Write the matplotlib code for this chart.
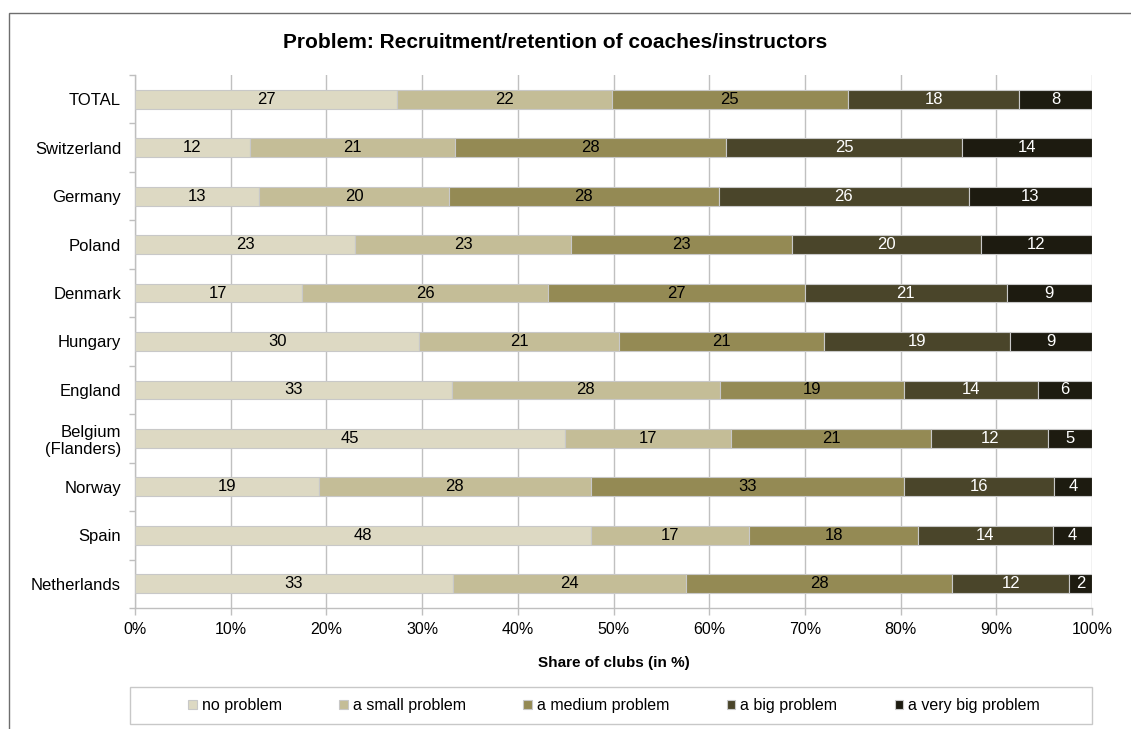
import matplotlib
matplotlib.use("Agg")
import matplotlib.pyplot as plt
from matplotlib.patches import Rectangle
import numpy as np

plt.rcParams['font.family'] = ['Liberation Sans', 'DejaVu Sans']

categories = ["TOTAL", "Switzerland", "Germany", "Poland", "Denmark", "Hungary",
              "England", "Belgium\n(Flanders)", "Norway", "Spain", "Netherlands"]
series_names = ["no problem", "a small problem", "a medium problem",
                "a big problem", "a very big problem"]
no_problem     = [27.4, 12.0, 13.0, 23.0, 17.4, 29.7, 33.1, 44.9, 19.2, 47.6, 33.2]
small_problem  = [22.4, 21.4, 19.8, 22.6, 25.8, 20.9, 28.0, 17.4, 28.4, 16.6, 24.4]
medium_problem = [24.7, 28.4, 28.2, 23.0, 26.8, 21.4, 19.3, 20.9, 32.8, 17.6, 27.8]
big_problem    = [17.9, 24.6, 26.1, 19.8, 21.1, 19.4, 14.0, 12.2, 15.6, 14.1, 12.2]
very_big       = [7.6, 13.6, 12.9, 11.6, 8.9, 8.6, 5.6, 4.6, 4.0, 4.1, 2.4]
x_ticks = [0, 10, 20, 30, 40, 50, 60, 70, 80, 90, 100]
x_tick_labels = [f"{t}%" for t in x_ticks]

colors = ["#DDD9C3", "#C4BD97", "#948A54", "#4A452A", "#1D1B10"]
text_colors = ["black", "black", "black", "white", "white"]

W, H = 1131, 729
fig = plt.figure(figsize=(W / 100, H / 100), dpi=100)
ax = fig.add_axes([135 / W, 1 - 608 / H, (1092 - 135) / W, (608 - 75) / H])

series = [no_problem, small_problem, medium_problem, big_problem, very_big]
y = np.arange(len(categories))
left = np.zeros(len(categories))
handles = []
for vals, name, col, tcol in zip(series, series_names, colors, text_colors):
    vals = np.array(vals)
    bars = ax.barh(y, vals, left=left, height=0.39, color=col,
                   edgecolor="#c8c8c8", linewidth=0.8, label=name, zorder=3)
    handles.append(bars)
    for yi, (l, v) in enumerate(zip(left, vals)):
        ax.text(l + v / 2, yi, f"{v:.0f}", ha="center", va="center",
                fontsize=12, color=tcol, zorder=4)
    left += vals

ax.set_xlim(0, 100)
ax.set_ylim(len(categories) - 0.5, -0.5)
ax.set_xticks(x_ticks)
ax.set_xticklabels(x_tick_labels, fontsize=11.5)
ax.set_yticks(y)
ax.set_yticklabels(categories, fontsize=12)
ax.set_yticks(np.arange(-0.5, len(categories)), minor=True)
ax.tick_params(axis="y", which="major", length=0, pad=10)
ax.tick_params(axis="y", which="minor", length=4, color="#bfbfbf", width=1)
ax.tick_params(axis="x", which="major", length=5, color="#bfbfbf", width=1, pad=5)
ax.grid(axis="x", color="#c0c0c0", linewidth=1, zorder=0)
ax.set_axisbelow(True)
for s in ["top", "right"]:
    ax.spines[s].set_visible(False)
for s in ["left", "bottom"]:
    ax.spines[s].set_color("#bfbfbf")
    ax.spines[s].set_linewidth(1)

ax.set_xlabel("Share of clubs (in %)", fontsize=11, fontweight="bold", labelpad=14)
fig.text(555 / W, 1 - 43 / H, "Problem: Recruitment/retention of coaches/instructors",
         ha="center", va="center", fontsize=15, fontweight="bold")

# legend box
fig.patches.append(Rectangle((130 / W, 1 - 724 / H), (1092 - 130) / W, 37 / H,
                             transform=fig.transFigure, fill=False,
                             edgecolor="#c8c8c8", linewidth=1))
leg = fig.legend(handles, series_names, loc="center",
                 bbox_to_anchor=(614 / W, 1 - 705.5 / H), ncol=5, frameon=False,
                 fontsize=11.5, handlelength=0.55, handleheight=0.55,
                 handletextpad=0.3, columnspacing=3.6)

# outer chart frame
fig.patches.append(Rectangle((9 / W, -0.05), 1.1, 1 - 13 / H + 0.05,
                             transform=fig.transFigure, fill=False,
                             edgecolor="#6e6e6e", linewidth=1, clip_on=False))

fig.savefig("out.png", dpi=100)
